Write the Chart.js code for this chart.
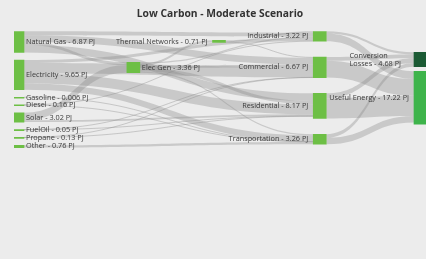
<!DOCTYPE html>
<html>
<head>
<meta charset="utf-8">
<script src="https://cdn.jsdelivr.net/npm/chart.js@4.4.1/dist/chart.umd.min.js"></script>
<style>
    html, body { margin: 0; padding: 0; background: #ececec; }
    #wrap { width: 426px; height: 259px; position: relative; }
</style>
</head>
<body>
<div id="wrap"><canvas id="sankeyChart"></canvas></div>
<script>
// Dados do diagrama
const nodeNames = ['Natural Gas', 'Electricity', 'Gasoline', 'Diesel', 'Solar', 'FuelOil', 'Propane', 'Other',
    'Elec Gen', 'Thermal Networks', 'Industrial', 'Commercial', 'Residential', 'Transportation',
    'Conversion Losses', 'Useful Energy'];
const nodeValues = [6.87, 9.65, 0.006, 0.16, 3.02, 0.05, 0.13, 0.76, 3.36, 0.71, 3.22, 6.67, 8.17, 3.26, 4.68, 17.22];

const linkFrom = ['Natural Gas', 'Natural Gas', 'Natural Gas', 'Natural Gas',
    'Electricity', 'Electricity', 'Electricity', 'Electricity',
    'Gasoline', 'Diesel', 'Diesel', 'Solar', 'Solar', 'FuelOil', 'FuelOil', 'Propane', 'Propane', 'Other',
    'Elec Gen', 'Elec Gen', 'Elec Gen', 'Elec Gen', 'Elec Gen',
    'Thermal Networks', 'Thermal Networks',
    'Industrial', 'Industrial', 'Commercial', 'Commercial', 'Residential', 'Residential', 'Transportation', 'Transportation'];
const linkTo = ['Industrial', 'Elec Gen', 'Commercial', 'Residential',
    'Industrial', 'Commercial', 'Residential', 'Transportation',
    'Transportation', 'Industrial', 'Transportation', 'Elec Gen', 'Residential', 'Commercial', 'Residential', 'Commercial', 'Residential', 'Transportation',
    'Thermal Networks', 'Industrial', 'Commercial', 'Residential', 'Transportation',
    'Industrial', 'Commercial',
    'Conversion Losses', 'Useful Energy', 'Conversion Losses', 'Useful Energy', 'Conversion Losses', 'Useful Energy', 'Conversion Losses', 'Useful Energy'];
const linkValues = [1.3, 0.9, 2.2, 2.47,
    1.0, 3.35, 3.3, 2.0,
    0.006, 0.06, 0.1, 2.46, 0.56, 0.02, 0.03, 0.05, 0.08, 0.76,
    0.71, 0.4, 0.8, 1.06, 0.39,
    0.46, 0.25,
    0.7, 2.52, 1.2, 5.47, 1.6, 6.57, 1.18, 2.08];
const unit = 'PJ';

// Layout: coluna de cada nó, posição da coluna no eixo x, topo e espaçamento (em PJ)
const nodeColumn = [0, 0, 0, 0, 0, 0, 0, 0, 1, 2, 3, 3, 3, 3, 4, 4];
const columnX = [0, 1.15, 2, 3, 4];
const columnTop = [0, 10.06, 2.92, 0, 6.82];
const columnGap = [2.45, 0, 0, 5.13, 1.46];
const labelBreaks = { 'Conversion Losses': 'Conversion\nLosses' };
const nodeColors = ['#6dbf45', '#6dbf45', '#6dbf45', '#6dbf45', '#6dbf45', '#6dbf45', '#6dbf45', '#6dbf45',
    '#6dbf45', '#6dbf45', '#6dbf45', '#6dbf45', '#6dbf45', '#6dbf45', '#1b5a34', '#3eb44b'];

const nodeTop = [];
const cursor = columnTop.slice();
nodeNames.forEach((n, i) => {
    const c = nodeColumn[i];
    nodeTop[i] = cursor[c];
    cursor[c] += nodeValues[i] + columnGap[c];
});

const idx = name => nodeNames.indexOf(name);
const center = i => nodeTop[i] + nodeValues[i] / 2;

// Links desenhados atrás dos nós
const sankeyLinks = {
    id: 'sankeyLinks',
    beforeDatasetsDraw(chart) {
        const ctx = chart.ctx;
        const yScale = chart.scales.y;
        const bars = chart.getDatasetMeta(0).data;
        const outOff = nodeTop.slice();
        const inOff = nodeTop.slice();
        const srcY = [], tgtY = [];
        const all = linkValues.map((v, i) => i);

        nodeNames.forEach((n, ni) => {
            all.filter(l => idx(linkFrom[l]) === ni)
                .sort((a, b) => center(idx(linkTo[a])) - center(idx(linkTo[b])))
                .forEach(l => { srcY[l] = outOff[ni]; outOff[ni] += linkValues[l]; });
            all.filter(l => idx(linkTo[l]) === ni)
                .sort((a, b) => center(idx(linkFrom[a])) - center(idx(linkFrom[b])))
                .forEach(l => { tgtY[l] = inOff[ni]; inOff[ni] += linkValues[l]; });
        });

        ctx.save();
        all.forEach(l => {
            const s = bars[idx(linkFrom[l])];
            const t = bars[idx(linkTo[l])];
            const x0 = s.x + s.width / 2;
            const x1 = t.x - t.width / 2;
            const xm = (x0 + x1) / 2;
            const y0a = yScale.getPixelForValue(srcY[l]);
            const y0b = yScale.getPixelForValue(srcY[l] + linkValues[l]);
            const y1a = yScale.getPixelForValue(tgtY[l]);
            const y1b = yScale.getPixelForValue(tgtY[l] + linkValues[l]);
            if (Math.abs(y0b - y0a) < 0.9) {
                const ys = (y0a + y0b) / 2, yt = (y1a + y1b) / 2;
                ctx.strokeStyle = 'rgba(140,140,140,0.45)';
                ctx.lineWidth = 0.9;
                ctx.beginPath();
                ctx.moveTo(x0, ys);
                ctx.bezierCurveTo(xm, ys, xm, yt, x1, yt);
                ctx.stroke();
                return;
            }
            ctx.fillStyle = 'rgba(140,140,140,0.37)';
            ctx.beginPath();
            ctx.moveTo(x0, y0a);
            ctx.bezierCurveTo(xm, y0a, xm, y1a, x1, y1a);
            ctx.lineTo(x1, y1b);
            ctx.bezierCurveTo(xm, y1b, xm, y0b, x0, y0b);
            ctx.closePath();
            ctx.fill();
        });
        ctx.restore();
    }
};

// Rótulos dos nós
const sankeyLabels = {
    id: 'sankeyLabels',
    afterDatasetsDraw(chart) {
        const ctx = chart.ctx;
        const bars = chart.getDatasetMeta(0).data;
        ctx.save();
        ctx.font = '7.3px "Open Sans", sans-serif';
        ctx.fillStyle = '#3a3a3a';
        ctx.textBaseline = 'middle';
        const lineH = 8;
        bars.forEach((bar, i) => {
            const name = labelBreaks[nodeNames[i]] || nodeNames[i];
            const lines = (name + ' - ' + nodeValues[i] + ' ' + unit).split('\n');
            const yc = (bar.y + bar.base) / 2;
            const right = nodeColumn[i] <= 1;
            const widest = Math.max(...lines.map(s => ctx.measureText(s).width));
            lines.forEach((s, k) => {
                const y = yc + (k - (lines.length - 1) / 2) * lineH;
                if (right) {
                    ctx.textAlign = 'left';
                    ctx.fillText(s, bar.x + bar.width / 2 + 2, y);
                } else if (lines.length > 1) {
                    ctx.textAlign = 'left';
                    ctx.fillText(s, bar.x - bar.width / 2 - 13 - widest, y);
                } else {
                    ctx.textAlign = 'right';
                    ctx.fillText(s, bar.x - bar.width / 2 - 5, y);
                }
            });
        });
        ctx.restore();
    }
};

new Chart(document.getElementById('sankeyChart').getContext('2d'), {
    type: 'bar',
    data: {
        datasets: [{
            data: nodeNames.map((n, i) => ({ x: columnX[nodeColumn[i]], y: [nodeTop[i], nodeTop[i] + nodeValues[i]] })),
            backgroundColor: nodeColors,
            borderWidth: 0,
            barThickness: 13,
            minBarLength: 1
        }]
    },
    options: {
        responsive: true,
        maintainAspectRatio: false,
        animation: false,
        layout: { padding: { left: 14, right: 0, top: 0, bottom: 0 } },
        scales: {
            x: { type: 'linear', display: false, offset: false, min: -0.0347, max: 4.0546 },
            y: { type: 'linear', display: false, reverse: true, min: 0, max: 74.03 }
        },
        plugins: {
            legend: { display: false },
            tooltip: { enabled: false },
            title: {
                display: true,
                text: 'Low Carbon - Moderate Scenario',
                color: '#333',
                font: { family: '"Open Sans", sans-serif', size: 10.3, weight: 'bold' },
                padding: { top: 8, bottom: 11 }
            }
        }
    },
    plugins: [sankeyLinks, sankeyLabels]
});
</script>
</body>
</html>
